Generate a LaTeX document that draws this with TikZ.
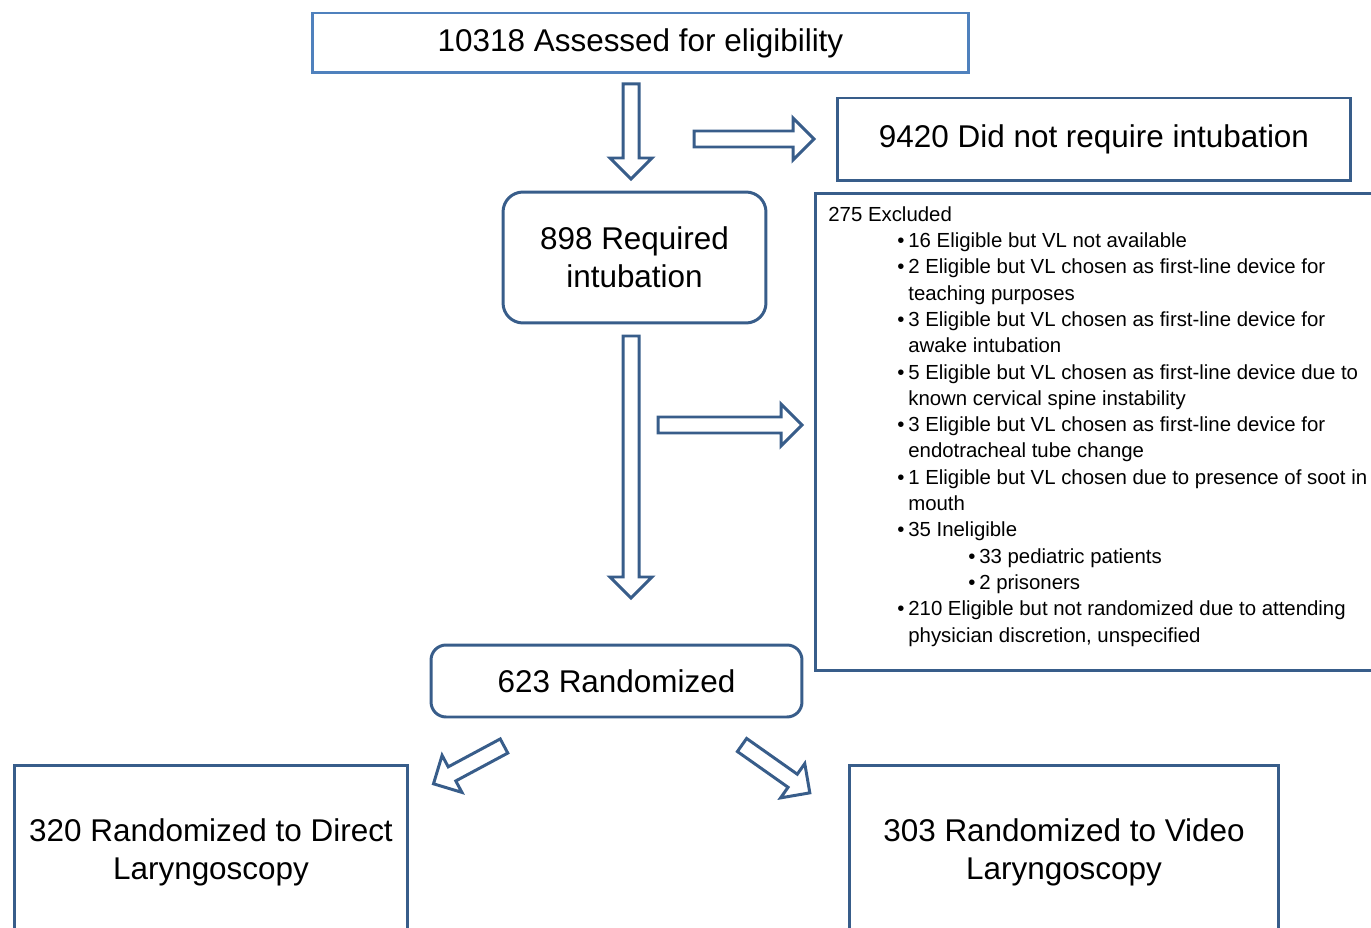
\documentclass[tikz,border=0pt]{standalone}
\usepackage{fontspec}
\setmainfont{Liberation Sans}
\usepackage{tikz}
\usetikzlibrary{calc}

\definecolor{boxblue}{HTML}{385D8A}
\definecolor{topblue}{HTML}{4F81BD}

% hollow block arrow: angle, tail coordinate, length
\newcommand{\fatarrow}[3]{%
\draw[arrowline, shift={(#2)}, rotate=#1] (0,-8) -- (#3-21,-8) -- (#3-21,-21) -- (#3,0)
 -- (#3-21,21) -- (#3-21,8) -- (0,8) -- cycle;}
% lines of the exclusion list
\newcommand{\exitem}[1]{\hspace*{1.38cm}\makebox[0.22cm][l]{•}#1}
\newcommand{\excont}[1]{\hspace*{1.6cm}#1}
\newcommand{\exsub}[1]{\hspace*{2.8cm}\makebox[0.22cm][l]{•}#1}

\begin{document}
\begin{tikzpicture}[x=0.02cm, y=-0.02cm,
  bigtext/.style={font=\fontsize{17.9}{21.5}\selectfont, align=center},
  box/.style={draw=boxblue, line width=1.7pt, bigtext},
  roundbox/.style={box, rounded corners=0.4cm},
  arrowline/.style={draw=boxblue, line width=1.7pt, line join=miter}]
\useasboundingbox (0,0) rectangle (1371,928);
\clip (0,0) rectangle (1371,928);

\node [box, draw=topblue, minimum width=13.14cm, minimum height=1.2cm] (assess) at (640.5,43) {10318 Assessed for eligibility};
\node [box, minimum width=10.28cm, minimum height=1.66cm] (noint) at (1094,139.5) {9420 Did not require intubation};
\node [roundbox, minimum width=5.26cm, minimum height=2.62cm] (reqint) at (634.5,257.5) {898 Required\\intubation};
\node [roundbox, rounded corners=0.3cm, minimum width=7.42cm, minimum height=1.44cm] (rand) at (616.5,681) {623 Randomized};
\node [box, minimum width=7.88cm, minimum height=3.48cm] (dl) at (211,852) {320 Randomized to Direct\\Laryngoscopy};
\node [box, minimum width=8.6cm, minimum height=3.48cm] (vl) at (1064,852) {303 Randomized to Video\\Laryngoscopy};

\node [draw=boxblue, line width=1.7pt, anchor=north west, minimum width=12cm, minimum height=9.54cm] (excl) at (814,192) {};
\node [anchor=north west, inner sep=0, align=left, font=\fontsize{11.6}{14.98}\selectfont] (excltext) at (828,206) {%
275 Excluded\\
\exitem{16 Eligible but VL not available}\\
\exitem{2 Eligible but VL chosen as first-line device for}\\
\excont{teaching purposes}\\
\exitem{3 Eligible but VL chosen as first-line device for}\\
\excont{awake intubation}\\
\exitem{5 Eligible but VL chosen as first-line device due to}\\
\excont{known cervical spine instability}\\
\exitem{3 Eligible but VL chosen as first-line device for}\\
\excont{endotracheal tube change}\\
\exitem{1 Eligible but VL chosen due to presence of soot in}\\
\excont{mouth}\\
\exitem{35 Ineligible}\\
\exsub{33 pediatric patients}\\
\exsub{2 prisoners}\\
\exitem{210 Eligible but not randomized due to attending}\\
\excont{physician discretion, unspecified}};

% arrow tails
\coordinate (t1) at (631,84);
\coordinate (t2) at (694,139);
\coordinate (t3) at (631,336);
\coordinate (t4) at (658,425);
\coordinate (t5) at (504,746);
\coordinate (t6) at (742,745);

\fatarrow{-90}{t1}{95}
\fatarrow{0}{t2}{120}
\fatarrow{-90}{t3}{262}
\fatarrow{0}{t4}{144}
\fatarrow{208.2}{t5}{80}
\fatarrow{-35.2}{t6}{83}
\end{tikzpicture}
\end{document}
